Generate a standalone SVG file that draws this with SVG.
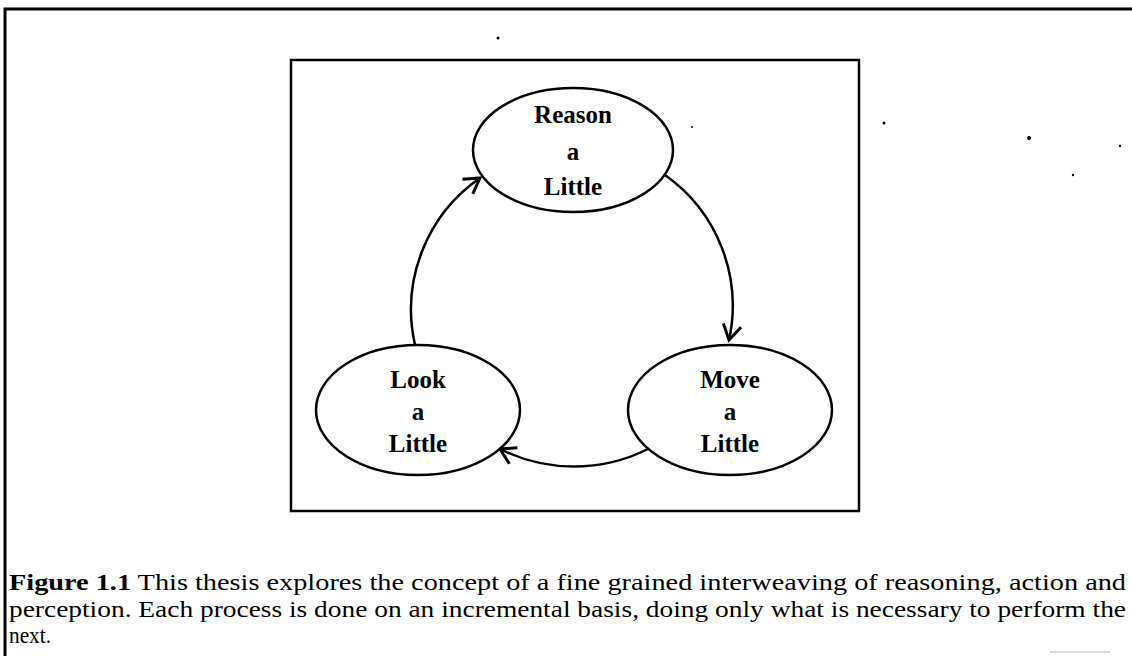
<svg xmlns="http://www.w3.org/2000/svg" width="1132" height="656" viewBox="0 0 1132 656">
  <style>
    .frame { fill: none; stroke: #000; stroke-width: 3; }
    .box { fill: none; stroke: #000; stroke-width: 2.5; }
    .node { fill: #fff; stroke: #000; stroke-width: 2.5; }
    .label { font-family: "Liberation Serif", "Times New Roman", serif; font-weight: bold; font-size: 25px; fill: #000; text-anchor: middle; }
    .edge { fill: none; stroke: #000; stroke-width: 2.5; }
    .caption { font-family: "Liberation Serif", "Times New Roman", serif; font-size: 23.5px; fill: #000; }
    .speck { fill: #000; }
  </style>
  <defs>
    <marker id="vhead" markerUnits="userSpaceOnUse" viewBox="-20 -12 24 24" refX="0" refY="0" markerWidth="24" markerHeight="24" orient="auto">
      <path d="M-15,-9 L0,0 L-15,9" fill="none" stroke="#000" stroke-width="3" stroke-linejoin="miter"/>
    </marker>
  </defs>

  <rect width="1132" height="656" fill="#fff"/>

  <!-- page frame: top rule and left rule -->
  <path class="frame" d="M5,656 L5,9 L1132,9"/>

  <!-- figure box -->
  <rect class="box" x="291" y="60" width="568" height="451"/>

  <!-- connectors: arcs of one cycle -->
  <g id="connectors">
    <path class="edge" d="M665,175 A160,160 0 0 1 729,340" marker-end="url(#vhead)"/>
    <path class="edge" d="M648,449 A165,165 0 0 1 500,449" marker-end="url(#vhead)"/>
    <path class="edge" d="M415,345 A160,160 0 0 1 480,178" marker-end="url(#vhead)"/>
  </g>

  <g id="reason">
    <ellipse class="node" cx="573" cy="150" rx="100" ry="62"/>
    <text class="label" x="573" y="123">Reason</text>
    <text class="label" x="573" y="160">a</text>
    <text class="label" x="573" y="195">Little</text>
  </g>

  <g id="move">
    <ellipse class="node" cx="730" cy="410" rx="102" ry="65"/>
    <text class="label" x="730" y="388">Move</text>
    <text class="label" x="730" y="420">a</text>
    <text class="label" x="730" y="452">Little</text>
  </g>

  <g id="look">
    <ellipse class="node" cx="418" cy="410" rx="102" ry="65"/>
    <text class="label" x="418" y="388">Look</text>
    <text class="label" x="418" y="420">a</text>
    <text class="label" x="418" y="452">Little</text>
  </g>

  <!-- stray specks on the page -->
  <g id="specks">
    <circle class="speck" cx="498" cy="38" r="1.5"/>
    <circle class="speck" cx="692" cy="127" r="1"/>
    <circle class="speck" cx="884" cy="123" r="1.5"/>
    <circle class="speck" cx="1029" cy="138" r="2"/>
    <circle class="speck" cx="1120" cy="146" r="1.2"/>
    <circle class="speck" cx="1073" cy="175" r="1.2"/>
  </g>

  <!-- caption -->
  <g id="caption">
    <text class="caption" x="9" y="590" textLength="1117" lengthAdjust="spacingAndGlyphs"><tspan font-weight="bold">Figure 1.1</tspan>  This thesis explores the concept of a fine grained interweaving of reasoning, action and</text>
    <text class="caption" x="9" y="617" textLength="1117" lengthAdjust="spacingAndGlyphs">perception.  Each process is done on an incremental basis, doing only what is necessary to perform the</text>
    <text class="caption" x="9" y="643" textLength="42" lengthAdjust="spacingAndGlyphs">next.</text>
  </g>
  <line x1="1050" y1="652" x2="1110" y2="652" stroke="#ccc" stroke-width="1.5"/>
</svg>
